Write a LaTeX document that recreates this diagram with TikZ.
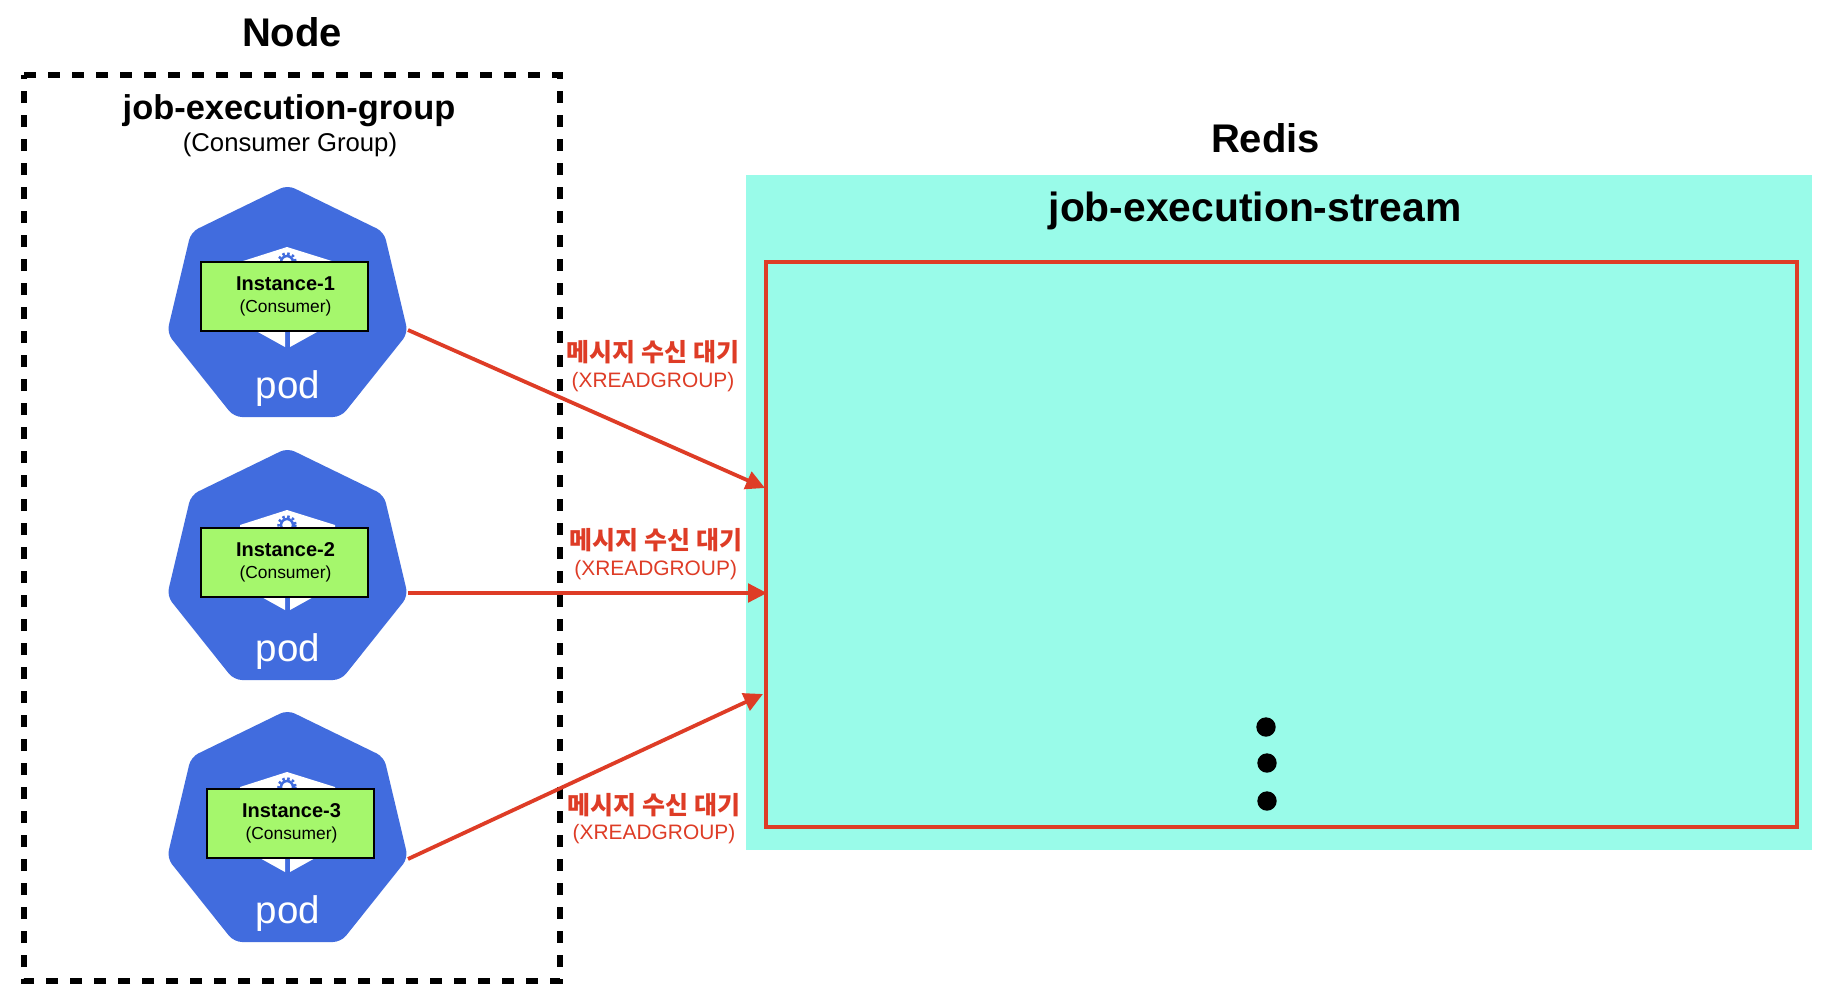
\documentclass[tikz,border=0pt]{standalone}
\usepackage{fontspec}
\setmainfont{Liberation Sans}
\newfontfamily\krfont{Noto Sans CJK KR}
\usetikzlibrary{arrows.meta}
\definecolor{podblue}{HTML}{416CDE}
\definecolor{instgreen}{HTML}{A5F76C}
\definecolor{streamteal}{HTML}{99FBE9}
\definecolor{linered}{HTML}{DE3C26}
\newcommand{\fs}[1]{\fontsize{#1}{#1}\selectfont}
\tikzset{
  x=1pt,y=-1pt,
  plain/.style={inner sep=0pt,outer sep=0pt},
  inst/.style={draw=black,line width=2pt,fill=instgreen,inner sep=0pt,outer sep=0pt,align=center,minimum width=167pt,minimum height=69pt},
  arrowline/.style={draw=linered,line width=3.8pt,-{Triangle[length=19pt,width=18.5pt]},shorten >=0pt},
  krlabel/.style={plain,text=linered,font=\krfont\bfseries\fs{25}},
  xlabel/.style={plain,text=linered,font=\fs{20.9}},
  pod/.pic={
    \fill[podblue,rounded corners=8pt] (287.5,185)--(384,232)--(408,333)--(341,417)--(234,417)--(167,333)--(191,232)--cycle;
    \fill[white] (287,247)--(335,262)--(335,322)--(290,347)--(290,300)--(285,300)--(285,347)--(240,322)--(240,262)--cycle;
    \draw[podblue,line width=2.5pt] (287,262) circle[radius=6];
    \draw[podblue,line width=2.5pt,dash pattern=on 2.5pt off 2.5pt] (287,262) circle[radius=8.5];
    \node[plain,text=white,font=\fs{38.5}] at (288,388.5) {pod};
  },
}
\begin{document}
\begin{tikzpicture}
\useasboundingbox (0,0) rectangle (1830,996);
\fill[white] (0,0) rectangle (1830,996);
% titles
\node[plain,font=\bfseries\fs{40}] (nodetitle) at (292,32.5) {Node};
\node[plain,font=\bfseries\fs{40}] (redistitle) at (1265.5,138.5) {Redis};
% node frame
\draw[line width=6pt,dash pattern=on 12pt off 12pt] (24,75)--(560,75)--(560,981)--(24,981)--cycle;
\node[plain,font=\bfseries\fs{34.4}] (grouptitle) at (289,110.5) {job-execution-group};
\node[plain,font=\fs{25.7}] (groupsub) at (290,145) {(Consumer Group)};
% pods
\pic at (0,0) {pod};
\pic at (0,263) {pod};
\pic at (0,525) {pod};
\node[inst] (inst1) at (284.5,296.5) {\bfseries\fs{20}\hspace*{2pt}Instance-1\\[8pt]\hspace*{2pt}\fs{17.4}(Consumer)};
\node[inst] (inst2) at (284.5,562.5) {\bfseries\fs{20}\hspace*{2pt}Instance-2\\[8pt]\hspace*{2pt}\fs{17.4}(Consumer)};
\node[inst] (inst3) at (290.5,823.5) {\bfseries\fs{20}\hspace*{2pt}Instance-3\\[8pt]\hspace*{2pt}\fs{17.4}(Consumer)};
% redis
\fill[streamteal] (746,175) rectangle (1812,850);
\node[plain,font=\bfseries\fs{40.8}] (streamtitle) at (1255,210.5) {job-execution-stream};
\node[plain,draw=linered,line width=4pt,minimum width=1031pt,minimum height=565pt] (stream) at (1281.5,544.5) {};
\fill (1266,727) circle[radius=9.7] (1267,763) circle[radius=9.7] (1267,801) circle[radius=9.7];
% connectors
\coordinate (pod1e) at (408,330);
\coordinate (pod2e) at (408,593);
\coordinate (pod3e) at (408,859);
\coordinate (in1) at (765,488);
\coordinate (in2) at (767,593);
\coordinate (in3) at (763,694);
\draw[arrowline] (pod1e) -- (in1);
\draw[arrowline] (pod2e) -- (in2);
\draw[arrowline] (pod3e) -- (in3);
% labels
\node[krlabel] (k1) at (653,352) {메시지 수신 대기};
\node[xlabel] (x1) at (653,382) {(XREADGROUP)};
\node[krlabel] (k2) at (656,540) {메시지 수신 대기};
\node[xlabel] (x2) at (655.7,570) {(XREADGROUP)};
\node[krlabel] (k3) at (654,805) {메시지 수신 대기};
\node[xlabel] (x3) at (654,834) {(XREADGROUP)};
\end{tikzpicture}
\end{document}
